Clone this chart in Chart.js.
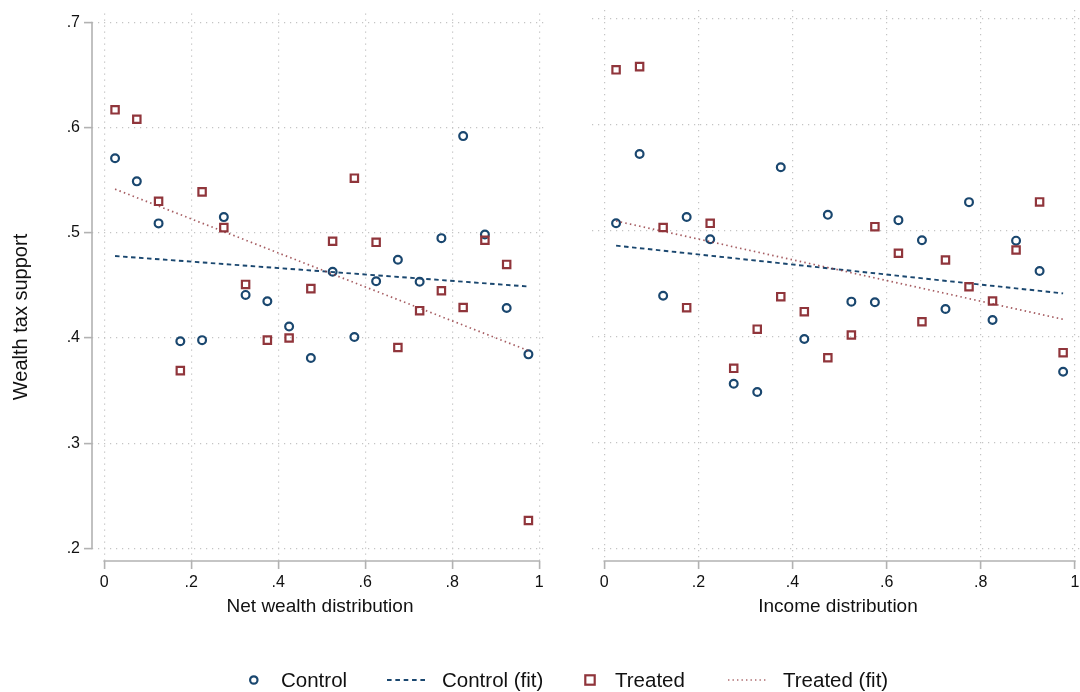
<!DOCTYPE html>
<html>
<head>
<meta charset="utf-8">
<script src="https://cdn.jsdelivr.net/npm/chart.js@4.4.1/dist/chart.umd.min.js"></script>
<style>
  html, body { margin:0; padding:0; background:#fff; }
  body { width:1080px; height:692px; overflow:hidden; position:relative;
         font-family:"Liberation Sans", Arial, Helvetica, sans-serif; color:#000; }
  canvas { position:absolute; top:0; }
  #ytitle { position:absolute; left:20px; top:317px; width:260px; margin-left:-130px; height:24px; margin-top:-12px;
            line-height:24px; text-align:center; font-size:20px; transform:rotate(-90deg); white-space:nowrap; color:#111; }
  .legtxt { position:absolute; top:668px; line-height:24px; font-size:20.5px; white-space:nowrap; color:#111; }
  #legsvg { position:absolute; left:0; top:660px; }
</style>
</head>
<body>
<canvas id="cLeft" width="560" height="692" style="left:0;width:560px;height:692px"></canvas>
<canvas id="cRight" width="535" height="692" style="left:560px;width:535px;height:692px"></canvas>
<div id="ytitle"></div>
<div id="legend"></div>
<svg id="legsvg" width="1080" height="40" xmlns="http://www.w3.org/2000/svg">
  <circle cx="253.8" cy="20" r="3.7" fill="none" stroke="#1a476f" stroke-width="2.2"/>
  <line x1="387" y1="20" x2="425" y2="20" stroke="#1a476f" stroke-width="2" stroke-dasharray="4.6 3.75"/>
  <rect x="585.3" y="15.3" width="9.4" height="9.4" fill="none" stroke="#90353b" stroke-width="2.2"/>
  <line x1="728" y1="20" x2="766" y2="20" stroke="rgba(144,53,59,0.75)" stroke-width="1.6" stroke-dasharray="1.4 3.1"/>
</svg>
<script>
// ---------------- data ----------------
const binCenters = [0.025, 0.075, 0.125, 0.175, 0.225, 0.275, 0.325, 0.375, 0.425, 0.475,
                    0.525, 0.575, 0.625, 0.675, 0.725, 0.775, 0.825, 0.875, 0.925, 0.975];

const wealthControl = [0.571, 0.549, 0.509, 0.397, 0.398, 0.515, 0.441, 0.435, 0.411, 0.381,
                       0.463, 0.401, 0.454, 0.4745, 0.4535, 0.495, 0.592, 0.4985, 0.4286, 0.3845];
const wealthTreated = [0.617, 0.608, 0.530, 0.369, 0.539, 0.505, 0.451, 0.398, 0.400, 0.447,
                       0.492, 0.552, 0.491, 0.391, 0.426, 0.445, 0.429, 0.493, 0.470, 0.2265];

const incomeControl = [0.507, 0.5725, 0.4386, 0.513, 0.492, 0.3555, 0.3476, 0.560, 0.3977, 0.515,
                       0.433, 0.4324, 0.510, 0.491, 0.426, 0.527, 0.4157, 0.4906, 0.462, 0.3668];
const incomeTreated = [0.652, 0.655, 0.503, 0.4273, 0.507, 0.370, 0.407, 0.4377, 0.4235, 0.380,
                       0.4015, 0.5038, 0.4787, 0.414, 0.4723, 0.4471, 0.4336, 0.4818, 0.5272, 0.3848];

const fitX = [0.025, 0.975];
const wealthControlFit = [0.478, 0.449];
const wealthTreatedFit = [0.5416, 0.388];
const incomeControlFit = [0.4859, 0.4408];
const incomeTreatedFit = [0.5092, 0.4163];

const xTicks = [0, 0.2, 0.4, 0.6, 0.8, 1];
const xTickLabels = ['0', '.2', '.4', '.6', '.8', '1'];
const yTicks = [0.2, 0.3, 0.4, 0.5, 0.6, 0.7];
const yTickLabels = ['.2', '.3', '.4', '.5', '.6', '.7'];

const yTitle = 'Wealth tax support';
const leftXTitle = 'Net wealth distribution';
const rightXTitle = 'Income distribution';
const legendLabels = ['Control', 'Control (fit)', 'Treated', 'Treated (fit)'];

// ---------------- style ----------------
const NAVY = '#1a476f';
const MAROON = '#90353b';
const FONT = '"Liberation Sans", Arial, Helvetica, sans-serif';
Chart.defaults.font.family = FONT;
Chart.defaults.color = '#111';

const toPts = (xs, ys) => xs.map((x, i) => ({x: x, y: ys[i]}));

const axisLinePlugin = {
  id: 'axisLines',
  beforeDatasetsDraw(chart, args, opts) {
    const {ctx, chartArea} = chart;
    const xs = chart.scales.x, ys = chart.scales.y;
    ctx.save();
    ctx.strokeStyle = '#b2b2b2';
    ctx.lineWidth = 1.6;
    ctx.setLineDash([]);
    ctx.beginPath();
    ctx.moveTo(xs.getPixelForValue(xTicks[0]) - 0.8, chartArea.bottom);
    ctx.lineTo(xs.getPixelForValue(xTicks[xTicks.length - 1]) + 0.8, chartArea.bottom);
    if (opts.yAxis) {
      ctx.moveTo(chartArea.left, ys.getPixelForValue(yTicks[0]) + 0.8);
      ctx.lineTo(chartArea.left, ys.getPixelForValue(yTicks[yTicks.length - 1]) - 0.8);
    }
    ctx.stroke();
    ctx.restore();
  }
};

function makeChart(id, ctrl, trt, ctrlFit, trtFit, xTitle, cfg) {
  return new Chart(document.getElementById(id), {
    type: 'scatter',
    data: {
      datasets: [
        { label: legendLabels[0], data: toPts(binCenters, ctrl), order: 4,
          pointStyle: 'circle', pointRadius: 3.9, pointBorderWidth: 2.2,
          borderColor: NAVY, backgroundColor: 'rgba(255,255,255,0)' },
        { label: legendLabels[1], data: toPts(fitX, ctrlFit), order: 3, showLine: true,
          pointRadius: 0, borderColor: NAVY, borderWidth: 1.9, borderDash: [4.5, 3.5] },
        { label: legendLabels[2], data: toPts(binCenters, trt), order: 2,
          pointStyle: 'rect', pointRadius: 5.2, pointBorderWidth: 2.2,
          borderColor: MAROON, backgroundColor: 'rgba(255,255,255,0)' },
        { label: legendLabels[3], data: toPts(fitX, trtFit), order: 1, showLine: true,
          pointRadius: 0, borderColor: 'rgba(144,53,59,0.8)', borderWidth: 1.7, borderDash: [1.5, 3.2] }
      ]
    },
    options: {
      responsive: false,
      animation: false,
      devicePixelRatio: 1,
      layout: { padding: cfg.padding },
      plugins: { legend: { display: false }, tooltip: { enabled: false }, axisLines: { yAxis: cfg.showY } },
      scales: {
        x: {
          type: 'linear', min: cfg.xMin, max: cfg.xMax,
          afterBuildTicks: s => { s.ticks = xTicks.map(v => ({value: v})); },
          afterFit: s => { s.height = 131; },
          ticks: { callback: (v, i) => xTickLabels[i], font: { size: 16 }, color: '#111', padding: 4, maxRotation: 0, autoSkip: false },
          grid: { color: '#c4c4c4', lineWidth: 1.2, drawTicks: true, tickLength: 8,
                  tickColor: '#b2b2b2', tickWidth: 1.6, tickBorderDash: [] },
          border: { display: false, dash: [1.2, 4.8] },
          title: { display: true, text: xTitle, font: { size: 19 }, color: '#111', padding: { top: 0, bottom: 73.6 } }
        },
        y: {
          type: 'linear', min: 0.188, max: 0.7085,
          afterBuildTicks: s => { s.ticks = yTicks.map(v => ({value: v})); },
          afterFit: s => { s.width = cfg.yWidth; },
          ticks: { display: cfg.showY, callback: (v, i) => yTickLabels[i], font: { size: 16 }, color: '#111', padding: 4, autoSkip: false },
          grid: { color: '#c4c4c4', lineWidth: 1.2, drawTicks: cfg.showY, tickLength: 8,
                  tickColor: '#b2b2b2', tickWidth: 1.6, tickBorderDash: [] },
          border: { display: false, dash: [1.2, 4.8] }
        }
      }
    },
    plugins: [axisLinePlugin]
  });
}

makeChart('cLeft', wealthControl, wealthTreated, wealthControlFit, wealthTreatedFit, leftXTitle,
  { padding: { left: 0, top: 10, right: 12, bottom: 0 }, yWidth: 92, showY: true, xMin: -0.028, xMax: 1.02 });
makeChart('cRight', incomeControl, incomeTreated, incomeControlFit, incomeTreatedFit, rightXTitle,
  { padding: { left: 31.7, top: 10, right: 10.7, bottom: 0 }, yWidth: 0, showY: false, xMin: -0.0268, xMax: 1.02 });

document.getElementById('ytitle').textContent = yTitle;

// ---------------- legend text ----------------
const legend = document.getElementById('legend');
const textLefts = [281, 442, 615, 783];
legendLabels.forEach((t, i) => {
  const d = document.createElement('div');
  d.className = 'legtxt';
  d.style.left = textLefts[i] + 'px';
  d.textContent = t;
  legend.appendChild(d);
});
</script>
</body>
</html>
